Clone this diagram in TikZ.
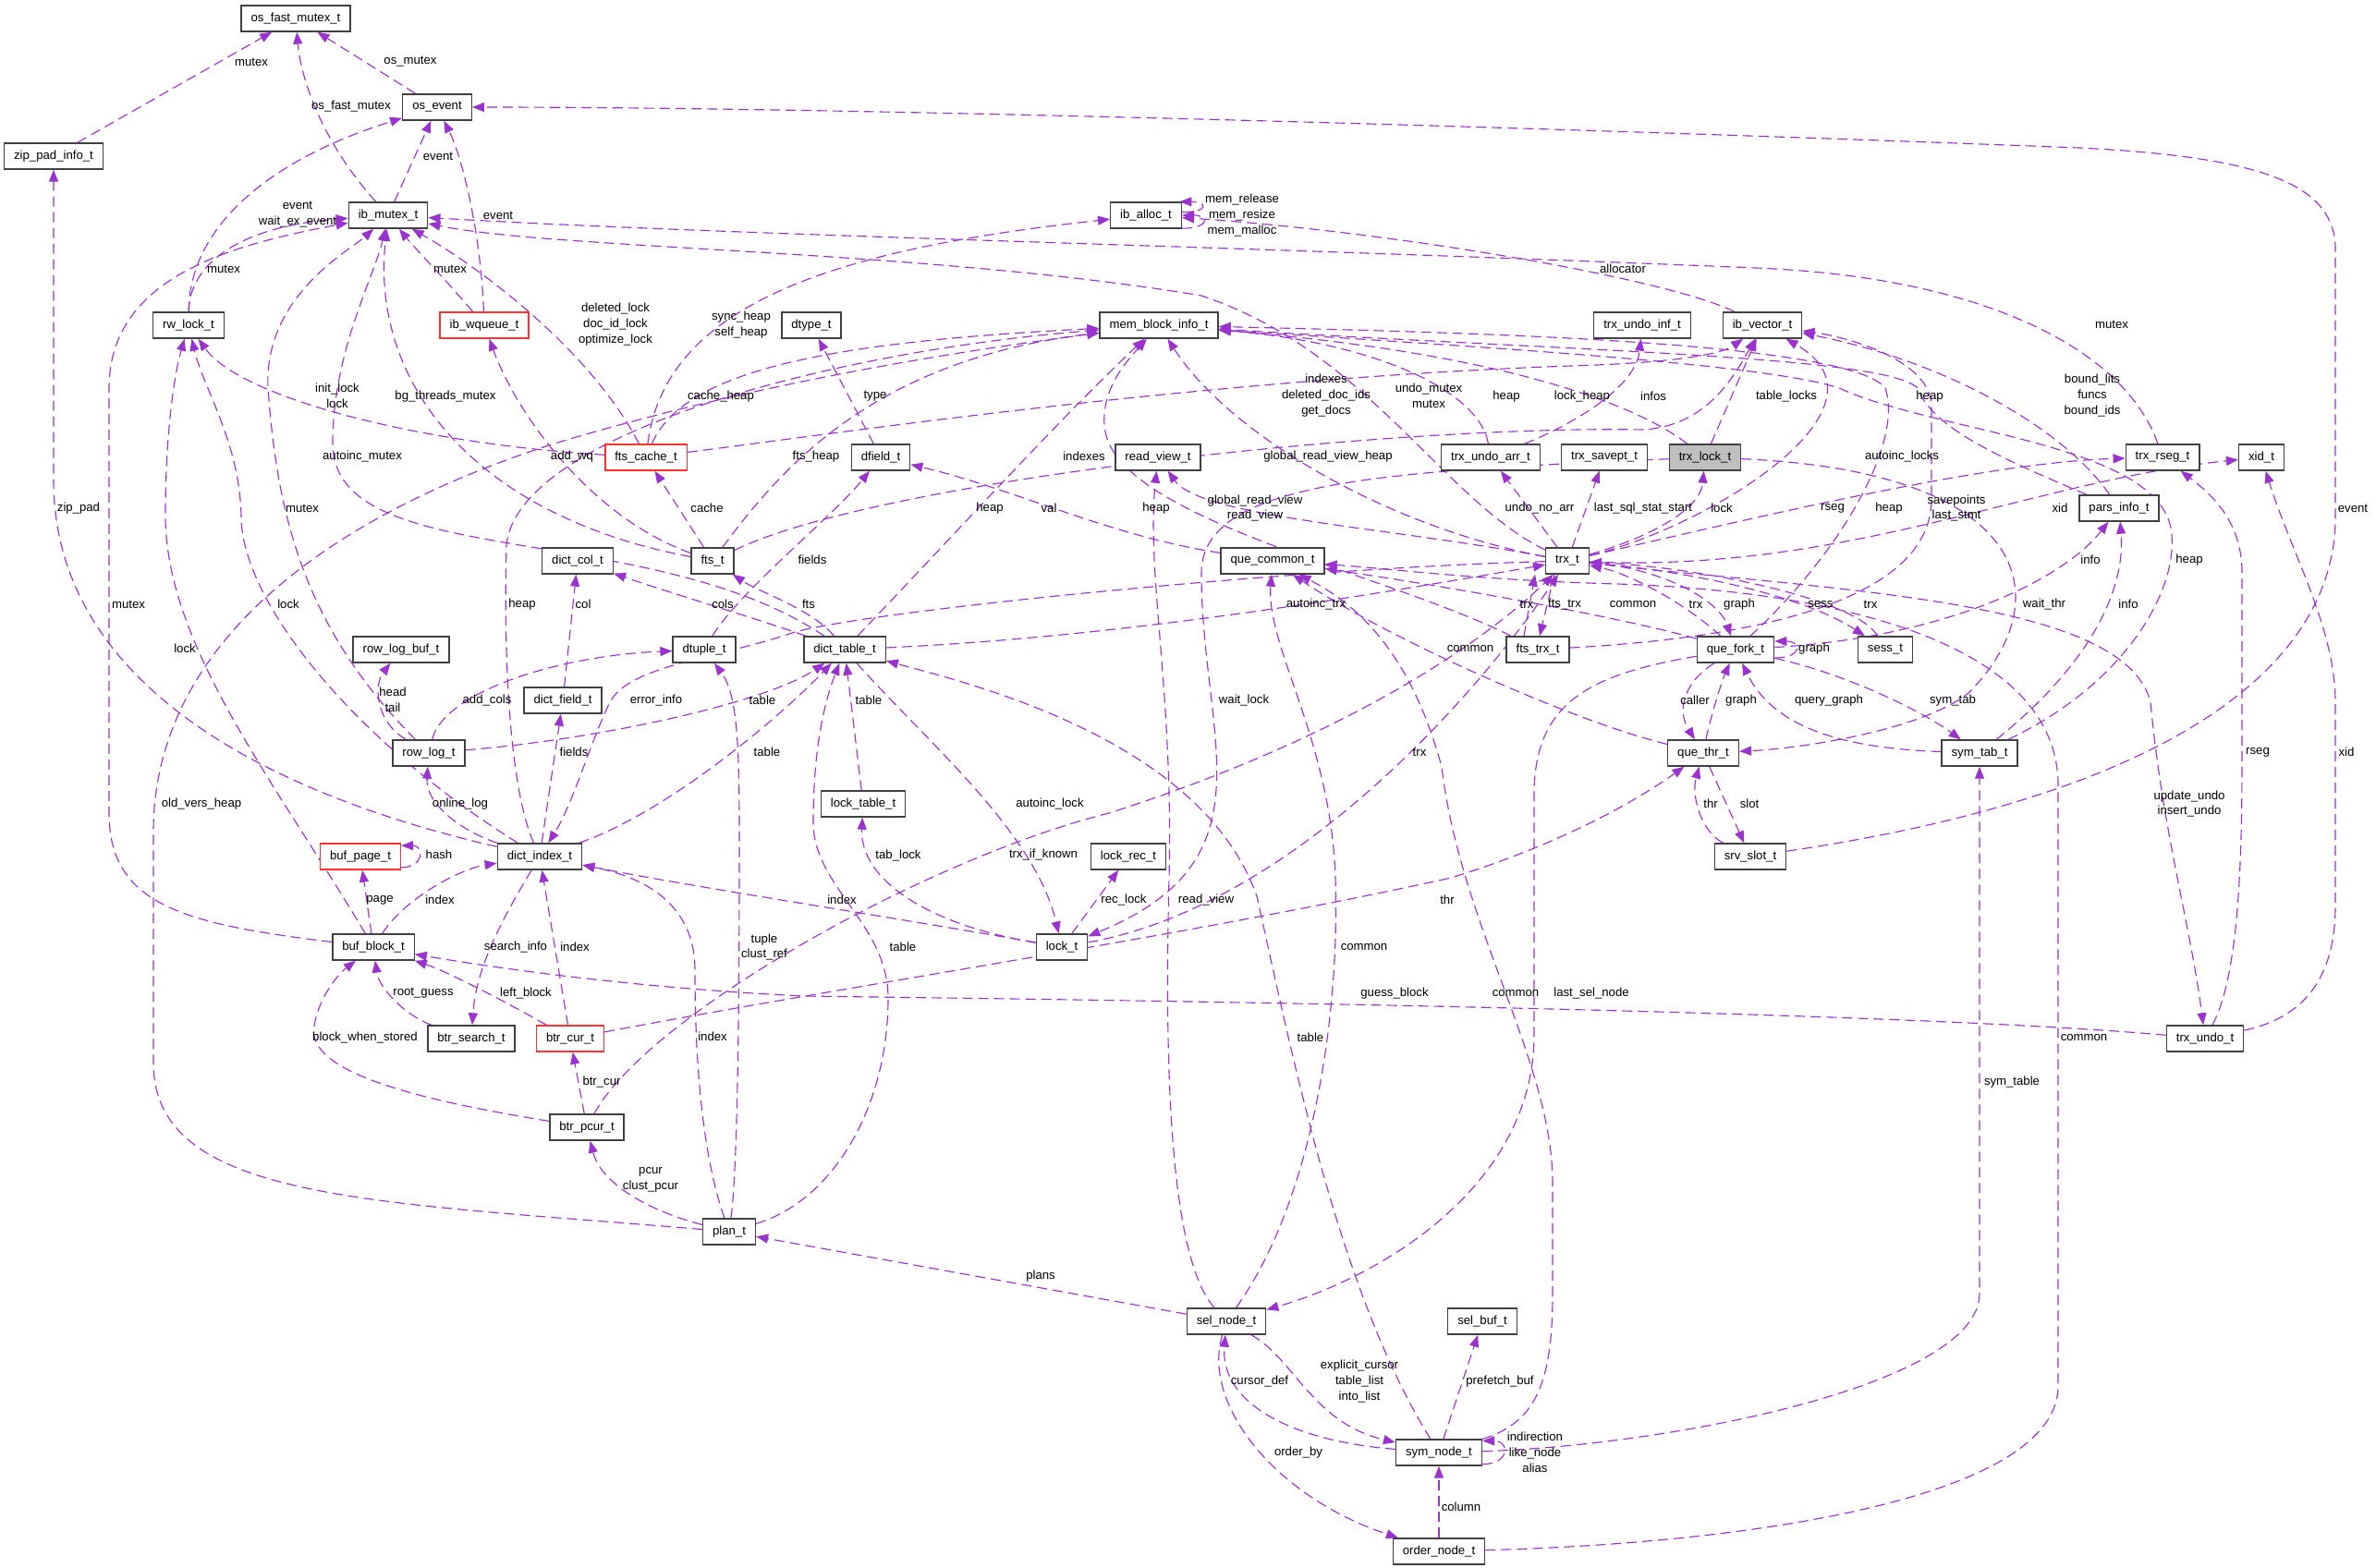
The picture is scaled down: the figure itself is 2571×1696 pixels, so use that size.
\documentclass[tikz,border=0pt]{standalone}
\usepackage{fontspec}
\setmainfont{Liberation Sans}
\usetikzlibrary{arrows.meta,backgrounds}
\definecolor{edgec}{HTML}{9A32CD}
\definecolor{boxline}{HTML}{404040}
\definecolor{boxred}{HTML}{FF3030}
\definecolor{rootfill}{HTML}{BFBFBF}
\newcommand{\gfont}{\fontsize{7.5}{9.6}\selectfont}

\begin{document}
\begin{tikzpicture}[x=0.02cm, y=-0.02cm,
  cls/.style={draw=boxline, line width=0.8pt, fill=white, font=\gfont, inner xsep=2.1mm, inner ysep=0pt, minimum height=5.6mm},
  redcls/.style={cls, draw=boxred},
  rootcls/.style={cls, fill=rootfill},
  link/.style={edgec, line width=0.65pt, dash pattern=on 2.2mm off 1.2mm, -{Triangle[length=2.6mm,width=2mm]}},
  lbl/.style={font=\gfont, align=center, inner sep=0pt},
]
\useasboundingbox (0,0) rectangle (2571,1696);

% ---- classes ----
\node[cls] (osfast) at (320,20) {os\_fast\_mutex\_t};
\node[cls] (osevent) at (473,116) {os\_event};
\node[cls] (zippad) at (58,169) {zip\_pad\_info\_t};
\node[cls] (ibmutex) at (420,233) {ib\_mutex\_t};
\node[cls] (iballoc) at (1240,233) {ib\_alloc\_t};
\node[cls] (rwlock) at (204,352) {rw\_lock\_t};
\node[redcls] (wqueue) at (524,352) {ib\_wqueue\_t};
\node[cls] (dtype) at (878,352) {dtype\_t};
\node[cls] (memblock) at (1254,352) {mem\_block\_info\_t};
\node[cls] (undoinf) at (1777,352) {trx\_undo\_inf\_t};
\node[cls] (ibvector) at (1907,352) {ib\_vector\_t};
\node[redcls] (ftscache) at (699,495) {fts\_cache\_t};
\node[cls] (dfield) at (953,495) {dfield\_t};
\node[cls] (readview) at (1253,495) {read\_view\_t};
\node[cls] (undoarr) at (1613,495) {trx\_undo\_arr\_t};
\node[cls] (savept) at (1736,495) {trx\_savept\_t};
\node[rootcls] (trxlock) at (1845,495) {trx\_lock\_t};
\node[cls] (rseg) at (2340,495) {trx\_rseg\_t};
\node[cls] (xid) at (2447,495) {xid\_t};
\node[cls] (parsinfo) at (2293,550) {pars\_info\_t};
\node[cls] (dictcol) at (625,607) {dict\_col\_t};
\node[cls] (fts) at (771,607) {fts\_t};
\node[cls] (quecommon) at (1377,607) {que\_common\_t};
\node[cls] (trx) at (1696,607) {trx\_t};
\node[cls] (logbuf) at (434,703) {row\_log\_buf\_t};
\node[cls] (dtuple) at (762,703) {dtuple\_t};
\node[cls] (dicttable) at (914,703) {dict\_table\_t};
\node[cls] (ftstrx) at (1664,703) {fts\_trx\_t};
\node[cls] (quefork) at (1878,703) {que\_fork\_t};
\node[cls] (sess) at (2040,703) {sess\_t};
\node[cls] (dictfield) at (609,758) {dict\_field\_t};
\node[cls] (rowlog) at (464,815) {row\_log\_t};
\node[cls] (quethr) at (1843,815) {que\_thr\_t};
\node[cls] (symtab) at (2142,815) {sym\_tab\_t};
\node[cls] (locktable) at (934,870) {lock\_table\_t};
\node[redcls] (bufpage) at (390,927) {buf\_page\_t};
\node[cls] (dictindex) at (584,927) {dict\_index\_t};
\node[cls] (lockrec) at (1221,927) {lock\_rec\_t};
\node[cls] (srvslot) at (1894,927) {srv\_slot\_t};
\node[cls] (bufblock) at (404,1025) {buf\_block\_t};
\node[cls] (lock) at (1149,1025) {lock\_t};
\node[cls] (btrsearch) at (510,1124) {btr\_search\_t};
\node[redcls] (btrcur) at (617,1124) {btr\_cur\_t};
\node[cls] (trxundo) at (2386,1124) {trx\_undo\_t};
\node[cls] (btrpcur) at (635,1220) {btr\_pcur\_t};
\node[cls] (plan) at (789,1333) {plan\_t};
\node[cls] (selnode) at (1327,1430) {sel\_node\_t};
\node[cls] (selbuf) at (1604,1430) {sel\_buf\_t};
\node[cls] (symnode) at (1557,1572) {sym\_node\_t};
\node[cls] (ordernode) at (1557,1679) {order\_node\_t};

% ---- members ----
\begin{scope}[on background layer]
% sync objects
\draw[link] (zippad) -- (osfast);
\draw[link] (ibmutex) .. controls (345,150) and (325,80) .. (osfast);
\draw[link] (osevent) -- (osfast);
\draw[link] (ibmutex) -- (osevent);
\draw[link] (rwlock) .. controls (205,240) and (300,170) .. (osevent);
\draw[link] (wqueue) .. controls (520,250) and (500,170) .. (osevent);
\draw[link] (srvslot) .. controls (2350,860) and (2527,720) .. (2527,560) -- (2527,270) .. controls (2527,200) and (2450,170) .. (2250,160) .. controls (1600,135) and (900,116) .. (osevent);
\draw[link] (rwlock) .. controls (205,285) and (260,245) .. (ibmutex);
\draw[link] (wqueue) .. controls (480,300) and (450,270) .. (ibmutex);
\draw[link] (ftscache) .. controls (640,380) and (520,290) .. (ibmutex);
\draw[link] (ftscache) .. controls (720,330) and (900,270) .. (iballoc);
\draw[link] (ftscache) .. controls (450,480) and (260,430) .. (rwlock);
\draw[link] (fts) .. controls (520,560) and (400,420) .. (ibmutex);
\draw[link] (dicttable) .. controls (700,560) and (360,620) .. (360,480) .. controls (360,380) and (405,300) .. (ibmutex);
\draw[link] (fts) .. controls (640,560) and (560,450) .. (wqueue);
\draw[link] (ftscache) .. controls (740,400) and (900,370) .. (memblock);
\draw[link] (fts) -- (ftscache);
\draw[link] (dictindex) .. controls (250,850) and (58,720) .. (58,520) -- (zippad);
\draw[link] (bufblock) .. controls (200,1000) and (118,980) .. (118,880) -- (118,420) .. controls (118,300) and (250,265) .. (ibmutex);
\draw[link] (bufblock) .. controls (300,850) and (180,700) .. (179,560) .. controls (179,460) and (190,400) .. (rwlock);
\draw[link] (dictindex) .. controls (380,800) and (262,650) .. (261,560) .. controls (260,480) and (220,420) .. (rwlock);
\draw[link] (rowlog) .. controls (330,680) and (300,560) .. (290,420) .. controls (285,320) and (380,270) .. (ibmutex);
\draw[link] (iballoc.-20) .. controls +(30,0) and +(30,0) .. (iballoc.0);
\draw[link] (iballoc.5) .. controls +(30,0) and +(30,0) .. (iballoc.22);
% dictionary
\draw[link] (dfield) -- (dtype);
\draw[link] (fts) .. controls (850,500) and (950,390) .. (memblock);
\draw[link] (dicttable) .. controls (1050,560) and (1150,450) .. (memblock);
\draw[link] (quecommon) .. controls (1200,580) and (1100,530) .. (dfield);
\draw[link] (fts) .. controls (950,520) and (1500,460) .. (1780,465) .. controls (1840,460) and (1870,420) .. (ibvector);
\draw[link] (ftscache) .. controls (900,470) and (1300,410) .. (1700,396) .. controls (1800,393) and (1860,385) .. (ibvector);
\draw[link] (selnode) .. controls (1265,1360) and (1260,1150) .. (1265,950) .. controls (1270,750) and (1240,620) .. (readview);
\draw[link] (trx) .. controls (1500,570) and (1300,560) .. (readview);
\draw[link] (ftstrx) .. controls (1500,620) and (1200,560) .. (1195,460) .. controls (1192,420) and (1220,390) .. (memblock);
\draw[link] (trx) .. controls (1500,570) and (1330,470) .. (memblock);
\draw[link] (trx) .. controls (1560,540) and (1480,380) .. (1300,320) .. controls (1000,270) and (600,270) .. (ibmutex);
\draw[link] (undoarr) .. controls (1600,420) and (1480,370) .. (memblock);
\draw[link] (trxlock) .. controls (1760,430) and (1600,380) .. (memblock);
\draw[link] (trx) -- (undoarr);
\draw[link] (ibvector) .. controls (1800,300) and (1500,250) .. (iballoc);
\draw[link] (rseg) .. controls (2300,380) and (2150,300) .. (1900,290) .. controls (1300,265) and (800,255) .. (ibmutex);
\draw[link] (undoarr) .. controls (1700,460) and (1770,420) .. (undoinf);
\draw[link] (trxlock) -- (ibvector);
\draw[link] (trx) .. controls (1850,570) and (2060,440) .. (ibvector);
\draw[link] (ftstrx) .. controls (1900,690) and (2090,650) .. (2090,540) -- (2090,440) .. controls (2090,390) and (2000,365) .. (ibvector);
\draw[link] (quefork) .. controls (1990,600) and (2060,480) .. (2040,420) .. controls (2000,370) and (1600,360) .. (memblock);
\draw[link] (parsinfo) .. controls (2230,460) and (2100,390) .. (ibvector);
\draw[link] (parsinfo) .. controls (2150,490) and (2090,460) .. (2075,420) .. controls (2040,385) and (1700,380) .. (memblock);
\draw[link] (symtab) .. controls (2300,740) and (2355,640) .. (2350,580) .. controls (2345,480) and (2100,470) .. (1990,420) .. controls (1900,390) and (1500,370) .. (memblock);
% transaction
\draw[link] (trx) .. controls (1900,560) and (2150,500) .. (rseg);
\draw[link] (trx) .. controls (2000,620) and (2200,520) .. (xid);
\draw[link] (trx) .. controls (1790,580) and (1840,550) .. (trxlock);
\draw[link] (trx) -- (savept);
\draw[link] (quefork) .. controls (2100,690) and (2230,630) .. (parsinfo);
\draw[link] (symtab) .. controls (2260,720) and (2300,640) .. (parsinfo);
\draw[link] (trxlock) .. controls (2200,510) and (2230,650) .. (2130,750) .. controls (2080,790) and (1950,810) .. (quethr);
\draw[link] (quefork) .. controls (2000,730) and (2080,770) .. (symtab);
\draw[link] (symtab) .. controls (2000,810) and (1920,790) .. (quefork);
\draw[link] (quefork.-12) .. controls +(30,0) and +(30,0) .. (quefork.12);
\draw[link] (quefork) .. controls (1820,740) and (1815,770) .. (quethr);
\draw[link] (quethr) .. controls (1850,780) and (1862,740) .. (quefork);
\draw[link] (srvslot) .. controls (1840,900) and (1830,860) .. (quethr);
\draw[link] (quethr) -- (srvslot);
\draw[link] (trxundo) .. controls (2426,1050) and (2426,900) .. (2426,800) -- (2426,620) .. controls (2426,570) and (2400,540) .. (rseg);
\draw[link] (trxundo) .. controls (2500,1100) and (2527,1050) .. (2527,980) -- (2527,760) .. controls (2527,680) and (2480,600) .. (xid);
\draw[link] (quefork) .. controls (1720,730) and (1660,760) .. (1660,860) -- (1660,1120) .. controls (1660,1280) and (1500,1380) .. (selnode);
\draw[link] (trxundo) .. controls (2000,1090) and (1000,1080) .. (870,1078) .. controls (700,1070) and (550,1050) .. (bufblock);
\draw[link] (symnode) .. controls (1660,1540) and (1680,1500) .. (1680,1400) -- (1680,1280) .. controls (1680,1150) and (1580,1000) .. (1560,830) .. controls (1530,720) and (1480,660) .. (quecommon);
\draw[link] (selnode) .. controls (1420,1300) and (1450,1100) .. (1445,950) .. controls (1440,800) and (1370,700) .. (quecommon);
\draw[link] (ordernode) .. controls (1900,1670) and (2227,1620) .. (2227,1500) -- (2227,850) .. controls (2227,700) and (2000,640) .. (1750,632) .. controls (1600,628) and (1500,615) .. (quecommon);
\draw[link] (quethr) .. controls (1700,780) and (1500,690) .. (quecommon);
\draw[link] (quefork) .. controls (1760,670) and (1600,640) .. (quecommon);
\draw[link] ([xshift=-3mm]ftstrx.north) -- ([xshift=-7mm]trx.south);
\draw[link] ([xshift=-2.8mm]trx.south) -- ([xshift=0.4mm]ftstrx.north);
\draw[link] (lock) .. controls (1400,980) and (1600,750) .. (trx);
\draw[link] (quefork) .. controls (1820,650) and (1760,620) .. (trx);
\draw[link] (sess) .. controls (2010,650) and (1850,615) .. (trx);
\draw[link] (trx) .. controls (1850,620) and (1960,650) .. (sess);
\draw[link] (trx) .. controls (1800,615) and (1860,650) .. (quefork);
\draw[link] (btrcur) .. controls (900,1070) and (1300,1010) .. (1570,950) .. controls (1700,910) and (1780,860) .. (quethr);
\draw[link] (dicttable) .. controls (1200,690) and (1450,650) .. (trx);
\draw[link] (trx) .. controls (1400,615) and (950,660) .. (860,684) .. controls (780,712) and (680,720) .. (660,760) .. controls (640,800) and (620,870) .. (dictindex);
% tables and indexes
\draw[link] (dicttable) .. controls (820,670) and (720,640) .. (dictcol);
\draw[link] (dicttable) .. controls (880,660) and (820,640) .. (fts);
\draw[link] (dtuple) .. controls (800,640) and (900,560) .. (dfield);
\draw[link] (dictfield) -- (dictcol);
\draw[link] (dictindex) .. controls (550,850) and (545,700) .. (548,590) .. controls (560,470) and (900,380) .. (memblock);
\draw[link] (rowlog) .. controls (480,750) and (600,710) .. (dtuple);
\draw[link] (rowlog) .. controls (405,780) and (405,740) .. (logbuf);
\draw[link] (rowlog) .. controls (650,800) and (830,760) .. (dicttable);
\draw[link] (dictindex) .. controls (720,880) and (840,780) .. (dicttable);
\draw[link] (locktable) -- (dicttable);
\draw[link] (plan) .. controls (900,1300) and (961,1200) .. (961,1080) .. controls (961,1000) and (880,960) .. (880,890) .. controls (880,810) and (892,760) .. (dicttable);
\draw[link] (symnode) .. controls (1450,1400) and (1400,1150) .. (1360,970) .. controls (1300,800) and (1050,740) .. (dicttable);
\draw[link] (lock) .. controls (950,990) and (750,960) .. (dictindex);
\draw[link] (bufblock) .. controls (440,970) and (500,940) .. (dictindex);
\draw[link] (btrcur) -- (dictindex);
\draw[link] (plan) .. controls (760,1250) and (752,1150) .. (752,1050) .. controls (752,980) and (700,950) .. (dictindex);
\draw[link] (plan) .. controls (800,1250) and (800,1000) .. (800,900) .. controls (800,800) and (797,750) .. (dtuple);
\draw[link] (dictindex) .. controls (540,1000) and (515,1050) .. (btrsearch);
\draw[link] (bufblock) -- (bufpage);
\draw[link] (bufpage.-15) .. controls +(25,0) and +(25,0) .. (bufpage.15);
\draw[link] (dictindex) .. controls (500,900) and (460,870) .. (rowlog);
\draw[link] (dictindex) -- (dictfield);
\draw[link] (btrsearch) .. controls (440,1100) and (410,1070) .. (bufblock);
\draw[link] (btrcur) .. controls (540,1080) and (480,1050) .. (bufblock);
\draw[link] (btrpcur) .. controls (450,1190) and (330,1160) .. (340,1110) .. controls (345,1080) and (365,1055) .. (bufblock);
\draw[link] (btrpcur) -- (btrcur);
\draw[link] (plan) .. controls (700,1310) and (650,1280) .. (btrpcur);
\draw[link] (plan) .. controls (400,1300) and (166,1300) .. (166,1150) -- (166,900) .. controls (166,700) and (350,560) .. (600,480) .. controls (800,420) and (1000,385) .. (memblock);
% query graph
\draw[link] (selnode) -- (plan);
\draw[link] (symnode) .. controls (1400,1560) and (1320,1520) .. (selnode);
\draw[link] (selnode) .. controls (1400,1470) and (1420,1540) .. (symnode);
\draw[link] (selnode) .. controls (1300,1520) and (1380,1620) .. (ordernode);
\draw[link] (symnode) -- (selbuf);
\draw[link] (ordernode) -- (symnode);
\draw[link] (symnode.-15) .. controls +(30,0) and +(30,0) .. (symnode.15);
\draw[link] (symnode) .. controls (1800,1565) and (2142,1500) .. (2142,1400) -- (symtab);
% locks
\draw[link] (trxlock) .. controls (1500,510) and (1300,520) .. (1300,620) .. controls (1300,800) and (1380,930) .. (lock);
\draw[link] (lock) .. controls (1000,1000) and (930,950) .. (locktable);
\draw[link] (lock) -- (lockrec);
\draw[link] (dicttable) .. controls (1000,800) and (1120,900) .. (lock);
\draw[link] (btrpcur) .. controls (700,1100) and (1000,930) .. (1200,880) .. controls (1450,800) and (1600,700) .. (trx);
\draw[link] (trx) .. controls (2000,640) and (2300,650) .. (2327,760) .. controls (2340,900) and (2370,1000) .. (trxundo);
\end{scope}

% ---- member names ----
\node[lbl] (l1) at (272,67) {mutex};
\node[lbl] (l2) at (380,115) {os\_fast\_mutex};
\node[lbl] (l3) at (444,67) {os\_mutex};
\node[lbl] (l4) at (474,169) {event};
\node[lbl] (l5) at (322,232) {event\\wait\_ex\_event};
\node[lbl] (l6) at (539,233) {event};
\node[lbl] (l7) at (2546,550) {event};
\node[lbl] (l8) at (242,291) {mutex};
\node[lbl] (l9) at (487,291) {mutex};
\node[lbl] (l10) at (666,351) {deleted\_lock\\doc\_id\_lock\\optimize\_lock};
\node[lbl] (l11) at (802,352) {sync\_heap\\self\_heap};
\node[lbl] (l12) at (365,428) {init\_lock\\lock};
\node[lbl] (l13) at (482,429) {bg\_threads\_mutex};
\node[lbl] (l14) at (392,494) {autoinc\_mutex};
\node[lbl] (l15) at (619,494) {add\_wq};
\node[lbl] (l16) at (780,429) {cache\_heap};
\node[lbl] (l17) at (765,550) {cache};
\node[lbl] (l18) at (85,550) {zip\_pad};
\node[lbl] (l19) at (139,654) {mutex};
\node[lbl] (l20) at (200,702) {lock};
\node[lbl] (l21) at (312,654) {lock};
\node[lbl] (l22) at (327,550) {mutex};
\node[lbl] (l23) at (1344,233) {mem\_release\\mem\_resize\\mem\_malloc};
\node[lbl] (l24) at (947,429) {type};
\node[lbl] (l25) at (883,494) {fts\_heap};
\node[lbl] (l26) at (1071,550) {heap};
\node[lbl] (l27) at (1135,550) {val};
\node[lbl] (l28) at (1173,494) {indexes};
\node[lbl] (l29) at (1435,428) {indexes\\deleted\_doc\_ids\\get\_docs};
\node[lbl] (l30) at (1305,974) {read\_view};
\node[lbl] (l31) at (1358,550) {global\_read\_view\\read\_view};
\node[lbl] (l32) at (1251,550) {heap};
\node[lbl] (l33) at (1437,494) {global\_read\_view\_heap};
\node[lbl] (l34) at (1546,428) {undo\_mutex\\mutex};
\node[lbl] (l35) at (1630,429) {heap};
\node[lbl] (l36) at (1712,429) {lock\_heap};
\node[lbl] (l37) at (1666,550) {undo\_no\_arr};
\node[lbl] (l38) at (1756,291) {allocator};
\node[lbl] (l39) at (2285,351) {mutex};
\node[lbl] (l40) at (1789,429) {infos};
\node[lbl] (l41) at (1933,429) {table\_locks};
\node[lbl] (l42) at (2058,494) {autoinc\_locks};
\node[lbl] (l43) at (2117,550) {savepoints\\last\_stmt};
\node[lbl] (l44) at (2044,550) {heap};
\node[lbl] (l45) at (2264,428) {bound\_lits\\funcs\\bound\_ids};
\node[lbl] (l46) at (2088,429) {heap};
\node[lbl] (l47) at (1983,550) {rseg};
\node[lbl] (l48) at (2229,550) {xid};
\node[lbl] (l49) at (1863,550) {lock};
\node[lbl] (l50) at (1778,550) {last\_sql\_stat\_start};
\node[lbl] (l51) at (2262,606) {info};
\node[lbl] (l52) at (2303,654) {info};
\node[lbl] (l53) at (2212,654) {wait\_thr};
\node[lbl] (l54) at (2113,758) {sym\_tab};
\node[lbl] (l55) at (1979,758) {query\_graph};
\node[lbl] (l56) at (1963,702) {graph};
\node[lbl] (l57) at (1834,758) {caller};
\node[lbl] (l58) at (1884,758) {graph};
\node[lbl] (l59) at (1851,870) {thr};
\node[lbl] (l60) at (1893,870) {slot};
\node[lbl] (l61) at (2443,814) {rseg};
\node[lbl] (l62) at (2539,814) {xid};
\node[lbl] (l63) at (1722,1075) {last\_sel\_node};
\node[lbl] (l64) at (1509,1075) {guess\_block};
\node[lbl] (l65) at (1640,1075) {common};
\node[lbl] (l66) at (1476,1025) {common};
\node[lbl] (l67) at (2255,1123) {common};
\node[lbl] (l68) at (1591,702) {common};
\node[lbl] (l69) at (1767,654) {common};
\node[lbl] (l70) at (1652,654) {trx};
\node[lbl] (l71) at (1693,654) {fts\_trx};
\node[lbl] (l72) at (1536,814) {trx};
\node[lbl] (l73) at (1835,654) {trx};
\node[lbl] (l74) at (2024,654) {trx};
\node[lbl] (l75) at (1970,654) {sess};
\node[lbl] (l76) at (1882,654) {graph};
\node[lbl] (l77) at (1566,974) {thr};
\node[lbl] (l78) at (1424,654) {autoinc\_trx};
\node[lbl] (l79) at (710,758) {error\_info};
\node[lbl] (l80) at (782,654) {cols};
\node[lbl] (l81) at (875,654) {fts};
\node[lbl] (l82) at (879,606) {fields};
\node[lbl] (l83) at (631,654) {col};
\node[lbl] (l84) at (565,654) {heap};
\node[lbl] (l85) at (527,758) {add\_cols};
\node[lbl] (l86) at (425,757) {head\\tail};
\node[lbl] (l87) at (825,758) {table};
\node[lbl] (l88) at (830,814) {table};
\node[lbl] (l89) at (940,758) {table};
\node[lbl] (l90) at (977,1025) {table};
\node[lbl] (l91) at (1418,1123) {table};
\node[lbl] (l92) at (911,974) {index};
\node[lbl] (l93) at (476,974) {index};
\node[lbl] (l94) at (622,1025) {index};
\node[lbl] (l95) at (771,1122) {index};
\node[lbl] (l96) at (827,1025) {tuple\\clust\_ref};
\node[lbl] (l97) at (558,1025) {search\_info};
\node[lbl] (l98) at (411,974) {page};
\node[lbl] (l99) at (475,925) {hash};
\node[lbl] (l100) at (498,870) {online\_log};
\node[lbl] (l101) at (621,814) {fields};
\node[lbl] (l102) at (458,1075) {root\_guess};
\node[lbl] (l103) at (569,1075) {left\_block};
\node[lbl] (l104) at (395,1123) {block\_when\_stored};
\node[lbl] (l105) at (651,1171) {btr\_cur};
\node[lbl] (l106) at (704,1277) {pcur\\clust\_pcur};
\node[lbl] (l107) at (218,870) {old\_vers\_heap};
\node[lbl] (l108) at (1126,1381) {plans};
\node[lbl] (l109) at (1363,1495) {cursor\_def};
\node[lbl] (l110) at (1471,1495) {explicit\_cursor\\table\_list\\into\_list};
\node[lbl] (l111) at (1405,1572) {order\_by};
\node[lbl] (l112) at (1623,1495) {prefetch\_buf};
\node[lbl] (l113) at (1581,1631) {column};
\node[lbl] (l114) at (1661,1572) {indirection\\like\_node\\alias};
\node[lbl] (l115) at (2177,1171) {sym\_table};
\node[lbl] (l116) at (1346,758) {wait\_lock};
\node[lbl] (l117) at (972,926) {tab\_lock};
\node[lbl] (l118) at (1216,974) {rec\_lock};
\node[lbl] (l119) at (1136,870) {autoinc\_lock};
\node[lbl] (l120) at (1129,925) {trx\_if\_known};
\node[lbl] (l121) at (2369,870) {update\_undo\\insert\_undo};
\node[lbl] (l122) at (2369,606) {heap};

\end{tikzpicture}
\end{document}
